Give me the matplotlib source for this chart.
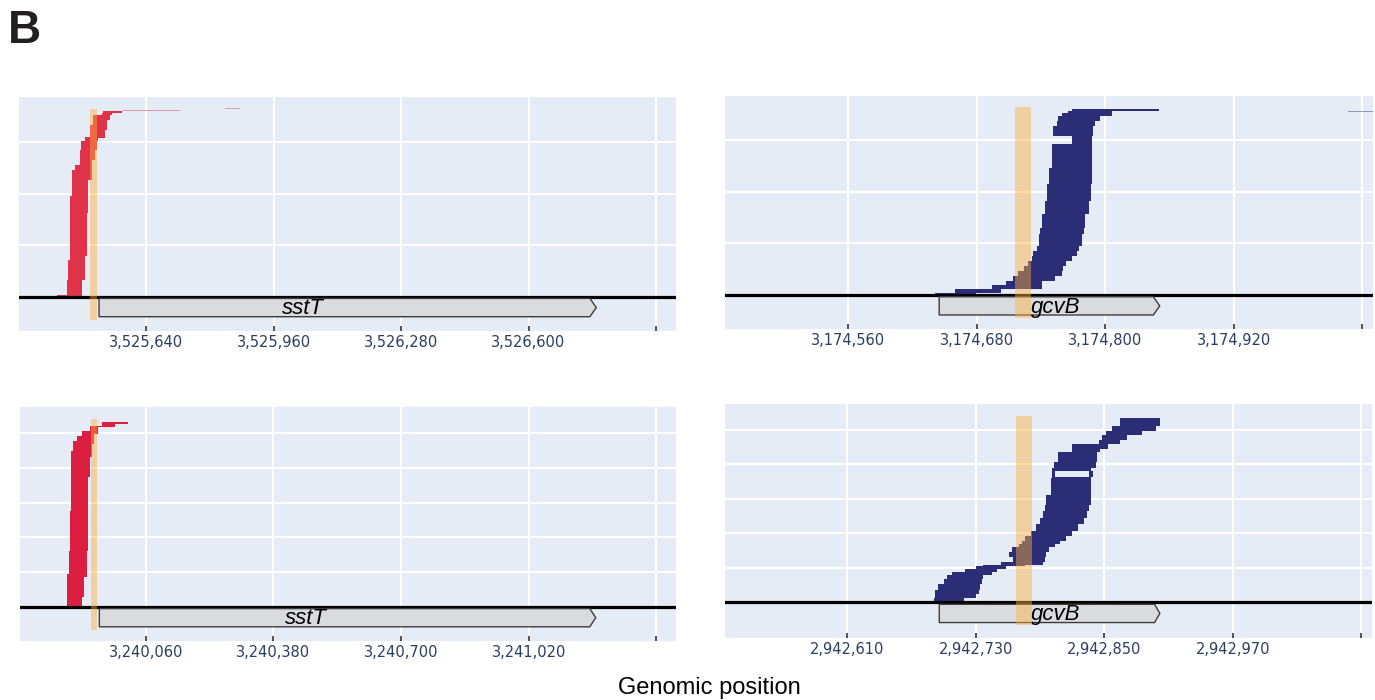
import matplotlib
matplotlib.use("Agg")
import matplotlib.pyplot as plt
from matplotlib.patches import Polygon

# ---- read bands: (first read row, number of reads, start bp, end bp) ----
tl_row = [0, 0, 32, 71, 78, 162, 195, 227, 246, 256, 266, 285, 302, 308, 311,
          324, 334, 344, 353, 357]
tl_n = [32, 3, 39, 7, 84, 33, 32, 19, 10, 10, 19, 17, 6, 3, 13, 10, 10, 9, 4, 4]
tl_start = [3525441, 3525417, 3525445, 3525449, 3525449, 3525449, 3525453,
            3525453, 3525462, 3525474, 3525474, 3525477, 3525487, 3525487,
            3525499, 3525499, 3525508, 3525508, 3525529, 3525533]
tl_end = [3525479, 3525445, 3525487, 3525487, 3525491, 3525495, 3525495,
          3525505, 3525505, 3525505, 3525512, 3525516, 3525519, 3525537,
          3525537, 3525541, 3525541, 3525550, 3525554, 3525579]
tl_faint_row = [361, 365]
tl_faint_start = [3525579, 3525838]
tl_faint_end = [3525725, 3525876]

tr_row = [0, 4.5, 11, 19.5, 27, 37, 46.5, 56, 66, 75.5, 85, 95, 117.5, 130.5,
          156, 182, 214, 246.5, 291.5, 307.5, 327, 337, 346.5, 353, 357]
tr_n = [4.5, 6.5, 8.5, 7.5, 10, 9.5, 9.5, 10, 9.5, 9.5, 10, 22.5, 13, 25.5,
        26, 32, 32.5, 45, 16, 19.5, 10, 9.5, 6.5, 4, 4]
tr_start = [3174641, 3174660, 3174694, 3174707, 3174714, 3174719, 3174724,
            3174728, 3174732, 3174733, 3174736, 3174738, 3174739, 3174741,
            3174744, 3174746, 3174748, 3174750, 3174769, 3174751, 3174755,
            3174756, 3174760, 3174765, 3174769]
tr_end = [3174679, 3174703, 3174741, 3174741, 3174753, 3174760, 3174761,
          3174763, 3174769, 3174774, 3174776, 3174778, 3174780, 3174781,
          3174785, 3174787, 3174788, 3174788, 3174788, 3174789, 3174791,
          3174795, 3174806, 3174806, 3174850]
tr_faint_row = [354]
tr_faint_start = [3175027]
tr_faint_end = [3175060]

bl_row = [0, 27, 46, 85, 94, 162, 277, 373, 402, 431, 450, 469, 479, 493,
          498, 508, 517, 522, 527]
bl_n = [27, 19, 39, 9, 68, 115, 96, 29, 29, 19, 19, 10, 14, 5, 10, 9, 5, 5, 5]
bl_start = [3239862, 3239862, 3239864, 3239864, 3239868, 3239870, 3239873,
            3239873, 3239874, 3239874, 3239879, 3239879, 3239887, 3239900,
            3239900, 3239920, 3239920, 3239950, 3239950]
bl_end = [3239900, 3239906, 3239906, 3239912, 3239912, 3239916, 3239916,
          3239920, 3239920, 3239926, 3239926, 3239931, 3239931, 3239931,
          3239941, 3239941, 3239983, 3239983, 3240016]
bl_faint_row = [532, 538]
bl_faint_start = [3240000, 3240209]
bl_faint_end = [3240125, 3240246]

br_row = [0, 11.4, 25.7, 35.2, 54.3, 68.6, 78.1, 87.6, 97.1, 104.8, 109.5,
          116.2, 130.5, 144.8, 159, 168.6, 178.1, 192.4, 206.7, 225.7, 244.8,
          263.8, 282.9, 311.4, 359, 364, 364, 380, 387.6, 406.7, 435.2, 444.8,
          459, 468.6, 482.9, 497.1, 511.4]
br_n = [11.4, 14.3, 9.5, 19.1, 14.3, 9.5, 9.5, 9.5, 7.7, 4.7, 6.7, 14.3, 14.3,
        14.2, 9.6, 9.5, 14.3, 14.3, 19, 19.1, 19, 19.1, 28.5, 47.6, 5, 16, 16,
        7.6, 19.1, 28.5, 9.6, 14.2, 9.6, 14.3, 14.2, 14.3, 21]
br_start = [2942691, 2942692, 2942692, 2942695, 2942700, 2942703, 2942708,
            2942720, 2942730, 2942737, 2942754, 2942765, 2942761, 2942764,
            2942770, 2942773, 2942776, 2942782, 2942786, 2942790, 2942793,
            2942795, 2942796, 2942800, 2942801, 2942801, 2942836, 2942801,
            2942803, 2942807, 2942820, 2942820, 2942845, 2942848, 2942852,
            2942857, 2942865]
br_end = [2942719, 2942730, 2942733, 2942734, 2942736, 2942737, 2942745,
          2942750, 2942758, 2942776, 2942793, 2942795, 2942796, 2942798,
          2942804, 2942809, 2942814, 2942820, 2942826, 2942831, 2942834,
          2942836, 2942838, 2942838, 2942838, 2942804, 2942840, 2942838,
          2942842, 2942843, 2942846, 2942854, 2942865, 2942871, 2942885,
          2942898, 2942902]

# ---- axes, genes, highlighted window ----
tl_ticks = [3525640, 3525960, 3526280, 3526600, 3526920]
tr_ticks = [3174560, 3174680, 3174800, 3174920, 3175040]
bl_ticks = [3240060, 3240380, 3240700, 3241020, 3241340]
br_ticks = [2942610, 2942730, 2942850, 2942970, 2943090]

tl_xlim, tl_ylim = (3525321, 3526970), (-67, 388)
tr_xlim, tr_ylim = (3174445, 3175050), (-66, 386)
bl_xlim, bl_ylim = (3239745, 3241389), (-98, 575)
br_xlim, br_ylim = (2942496, 2943100), (-102, 574)

genes = ["sstT", "gcvB", "sstT", "gcvB"]
gene_start = [3525522, 3174645, 3239944, 2942696]
gene_body_end = [3526754, 3174845, 3241173, 2942897]
gene_tip = [3526770, 3174851, 3241188, 2942902]
gene_label_x = [3526033, 3174754, 3240462, 2942805]
hl_start = [3525499, 3174716, 3239922, 2942768]
hl_end = [3525516, 3174731, 3239937, 2942783]

BG = "#e5ecf6"
RED_TOP = "#e0334a"
RED_BOTTOM = "#dc1f41"
BLUE = "#2b2d76"


def draw_panel(ax, rows, ns, starts, ends, color, faint, ticks, xlim, ylim,
               gene_idx):
    ax.set_facecolor(BG)
    ax.set_xlim(*xlim)
    ax.set_ylim(*ylim)
    ax.set_axisbelow(True)
    ax.grid(True, color="white", lw=1.5)
    for s in ax.spines.values():
        s.set_visible(False)

    widths = [e - s for s, e in zip(starts, ends)]
    ax.barh(rows, widths, height=ns, left=starts, align="edge",
            color=color, lw=0, zorder=2)
    f_rows, f_start, f_end = faint
    ax.barh(f_rows, [e - s for s, e in zip(f_start, f_end)], height=1.5,
            left=f_start, align="edge", color=color, alpha=0.45, lw=0, zorder=2)

    # reference line at read 0
    ax.axhline(0, color="black", lw=2.3, zorder=3)

    # gene arrow
    span = ylim[1] - ylim[0]
    top = -0.008 * span
    bot = -0.086 * span
    mid = (top + bot) / 2
    xs = [gene_start[gene_idx], gene_body_end[gene_idx], gene_tip[gene_idx],
          gene_body_end[gene_idx], gene_start[gene_idx]]
    ys = [top, top, mid, bot, bot]
    ax.add_patch(Polygon(list(zip(xs, ys)), closed=True, fc="#d9dbde",
                         ec="#3c3c3c", lw=1.0, zorder=4))
    ax.text(gene_label_x[gene_idx], mid - 0.005 * span, genes[gene_idx],
            ha="center", va="center", fontsize=16, style="italic",
            family="Liberation Sans", color="black", zorder=5)

    # highlighted window
    ax.fill_between([hl_start[gene_idx], hl_end[gene_idx]],
                    bot - 0.012 * span, ylim[1] - 0.05 * span,
                    color="#ffaf3c", alpha=0.45, lw=0, zorder=6)

    ax.set_xticks(ticks)
    ax.set_xticklabels([f"{t:,}" for t in ticks[:-1]] + [""])
    ax.tick_params(axis="x", direction="in", length=3.5, width=1.3,
                   color="#444444", pad=3, labelsize=10.5,
                   labelcolor="#2a3f5f")
    ax.set_yticks(range(0, int(ylim[1]) + 1, 100))
    ax.tick_params(axis="y", length=0, labelleft=False)


fig = plt.figure(figsize=(13.75, 7), dpi=100)
ax_tl = fig.add_axes([0.0138, 0.5271, 0.4778, 0.3343])
ax_tr = fig.add_axes([0.5273, 0.5300, 0.4711, 0.3333])
ax_bl = fig.add_axes([0.0145, 0.0847, 0.4771, 0.3334])
ax_br = fig.add_axes([0.5273, 0.0890, 0.4705, 0.3339])

draw_panel(ax_tl, tl_row, tl_n, tl_start, tl_end, RED_TOP,
           (tl_faint_row, tl_faint_start, tl_faint_end), tl_ticks, tl_xlim,
           tl_ylim, 0)
draw_panel(ax_tr, tr_row, tr_n, tr_start, tr_end, BLUE,
           (tr_faint_row, tr_faint_start, tr_faint_end), tr_ticks, tr_xlim,
           tr_ylim, 1)
draw_panel(ax_bl, bl_row, bl_n, bl_start, bl_end, RED_BOTTOM,
           (bl_faint_row, bl_faint_start, bl_faint_end), bl_ticks, bl_xlim,
           bl_ylim, 2)
draw_panel(ax_br, br_row, br_n, br_start, br_end, BLUE,
           ([], [], []), br_ticks, br_xlim, br_ylim, 3)

fig.text(0.006, 0.956, "B", fontsize=33, fontweight="bold",
         family="Liberation Sans", color="#231f20", ha="left", va="center")
fig.text(0.516, 0.017, "Genomic position", fontsize=17,
         family="Liberation Sans", color="black", ha="center", va="center")

fig.savefig("out.png", dpi=100)
